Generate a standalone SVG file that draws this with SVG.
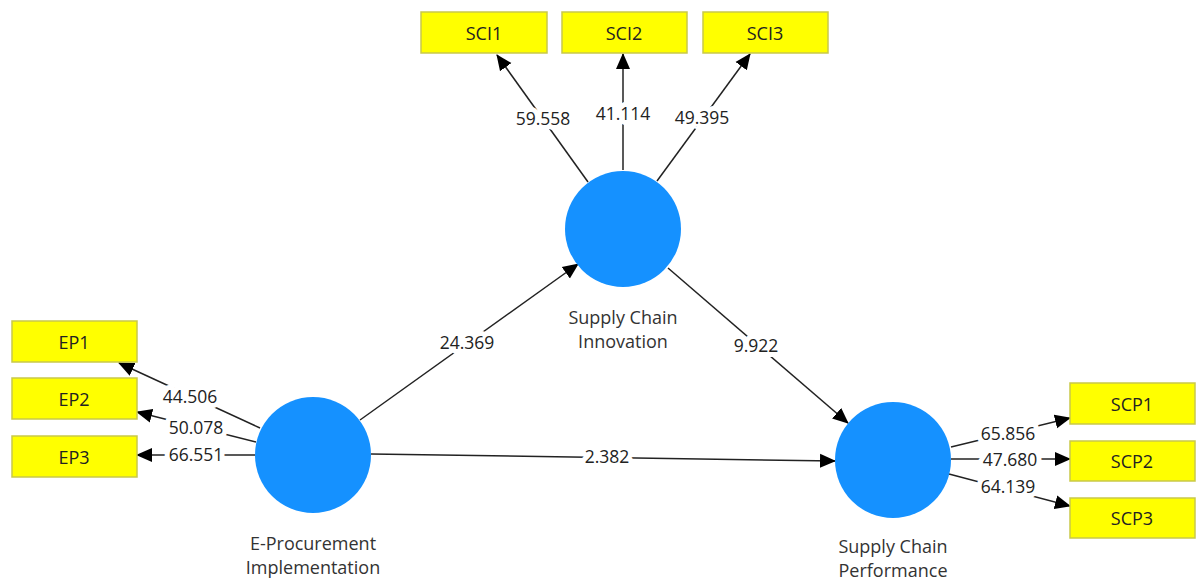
<svg xmlns="http://www.w3.org/2000/svg" width="1197" height="581" viewBox="0 0 1197 581">
<style>
.lv{fill:#1591FF;}
.ind{fill:#FFFF00;stroke:#C9C94A;stroke-width:1.5;}
.it{font-family:"Open Sans","Noto Sans",sans-serif;font-size:18px;fill:#222;text-anchor:middle;dominant-baseline:central;}
.lt{font-family:"Open Sans","Noto Sans",sans-serif;font-size:18px;fill:#333;text-anchor:middle;}
.c{stroke:#222;stroke-width:1.5;fill:none;marker-end:url(#ah);}
.nl{font-family:"Open Sans","Noto Sans",sans-serif;font-size:17.5px;fill:#222;text-anchor:middle;dominant-baseline:central;stroke:#fff;stroke-width:10;paint-order:stroke;stroke-linejoin:round;}
</style>
<defs>
<marker id="ah" markerUnits="userSpaceOnUse" markerWidth="16" markerHeight="16" viewBox="0 0 16 16" refX="15" refY="8" orient="auto">
<path d="M0,1 L16,8 L0,15 Z" fill="#000"/>
</marker>
</defs>
<rect width="1197" height="581" fill="#fff"/>
<g id="connectors">
<line class="c" x1="588" y1="182" x2="497" y2="55"/>
<line class="c" x1="623" y1="170" x2="623" y2="54"/>
<line class="c" x1="657" y1="181" x2="750" y2="54"/>
<line class="c" x1="260" y1="428" x2="119" y2="363"/>
<line class="c" x1="256" y1="442" x2="137" y2="412"/>
<line class="c" x1="255" y1="455" x2="137" y2="455"/>
<line class="c" x1="951" y1="447" x2="1070" y2="418"/>
<line class="c" x1="951" y1="459" x2="1070" y2="459"/>
<line class="c" x1="949" y1="474" x2="1070" y2="506"/>
<line class="c" x1="360" y1="420" x2="578" y2="264"/>
<line class="c" x1="668" y1="268" x2="848" y2="423"/>
<line class="c" x1="371" y1="454" x2="835" y2="461"/>
<text class="nl" x="543" y="118">59.558</text>
<text class="nl" x="623" y="113">41.114</text>
<text class="nl" x="702" y="117">49.395</text>
<text class="nl" x="190" y="396">44.506</text>
<text class="nl" x="196" y="427">50.078</text>
<text class="nl" x="196" y="454">66.551</text>
<text class="nl" x="1008" y="433">65.856</text>
<text class="nl" x="1010" y="459">47.680</text>
<text class="nl" x="1008" y="486">64.139</text>
<text class="nl" x="467" y="342">24.369</text>
<text class="nl" x="756" y="345">9.922</text>
<text class="nl" x="607" y="456">2.382</text>
</g>
<g id="SCI">
<circle class="lv" cx="623" cy="229" r="58"/>
<text class="lt" x="623" y="324">Supply Chain</text>
<text class="lt" x="623" y="348">Innovation</text>
</g>
<g id="EP">
<circle class="lv" cx="313" cy="455" r="58"/>
<text class="lt" x="313" y="550">E-Procurement</text>
<text class="lt" x="313" y="574">Implementation</text>
</g>
<g id="SCP">
<circle class="lv" cx="893" cy="460" r="58"/>
<text class="lt" x="893" y="553">Supply Chain</text>
<text class="lt" x="893" y="577">Performance</text>
</g>
<g id="SCI1"><rect class="ind" x="421" y="12" width="126" height="41"/><text class="it" x="484" y="33">SCI1</text></g>
<g id="SCI2"><rect class="ind" x="562" y="12" width="125" height="41"/><text class="it" x="624" y="33">SCI2</text></g>
<g id="SCI3"><rect class="ind" x="703" y="12" width="125" height="41"/><text class="it" x="765" y="33">SCI3</text></g>
<g id="EP1"><rect class="ind" x="12" y="321" width="125" height="41"/><text class="it" x="74" y="342">EP1</text></g>
<g id="EP2"><rect class="ind" x="12" y="378" width="125" height="41"/><text class="it" x="74" y="399">EP2</text></g>
<g id="EP3"><rect class="ind" x="12" y="436" width="125" height="41"/><text class="it" x="74" y="457">EP3</text></g>
<g id="SCP1"><rect class="ind" x="1070" y="383" width="125" height="41"/><text class="it" x="1132" y="404">SCP1</text></g>
<g id="SCP2"><rect class="ind" x="1070" y="441" width="125" height="40"/><text class="it" x="1132" y="461">SCP2</text></g>
<g id="SCP3"><rect class="ind" x="1070" y="498" width="125" height="40"/><text class="it" x="1132" y="518">SCP3</text></g>
</svg>
